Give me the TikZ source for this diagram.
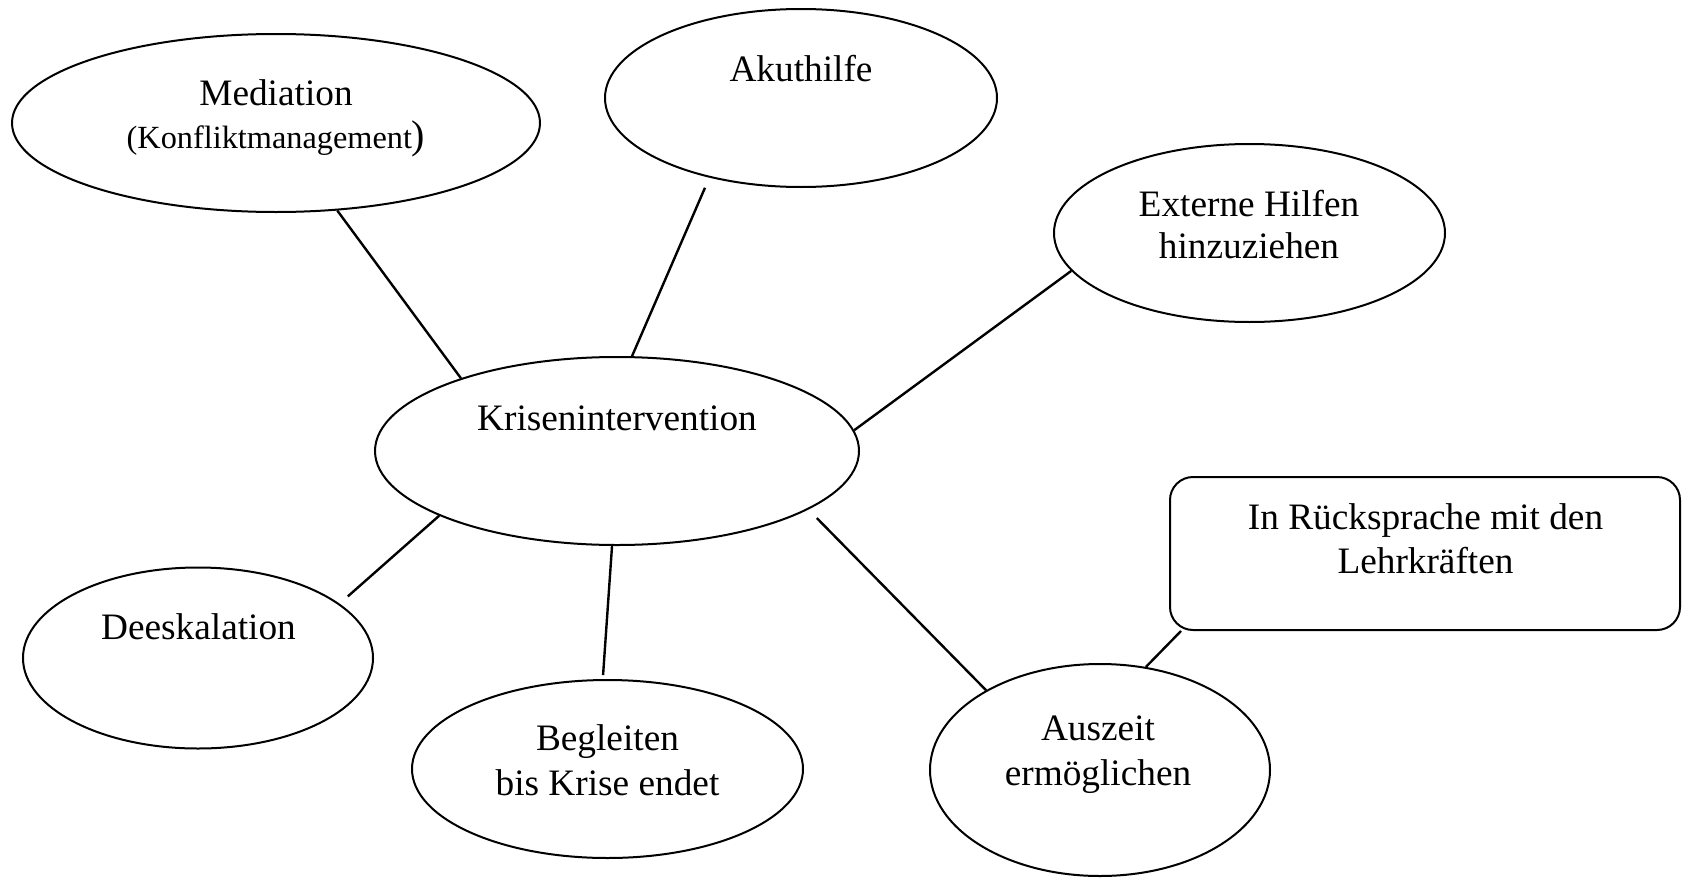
\documentclass[tikz,border=0pt]{standalone}
\usepackage{fontspec}
\setmainfont{Liberation Serif}
\usetikzlibrary{shapes.geometric}
\begin{document}
\begin{tikzpicture}[x=1pt,y=-1pt,
  bubble/.style={draw, ellipse, line width=2pt, inner sep=0pt},
  notebox/.style={draw, rectangle, rounded corners=23pt, line width=2pt, inner sep=0pt},
  caption/.style={anchor=base, align=center, inner sep=0pt,
    font=\fontsize{37.3}{44}\selectfont},
  link/.style={line width=2.4pt}]
\useasboundingbox (0,0) rectangle (1687,878);

% outlines
\node[bubble, minimum width=528pt, minimum height=178pt] (med)  at (276,123) {};
\node[bubble, minimum width=392pt, minimum height=178pt] (akut) at (801,98) {};
\node[bubble, minimum width=391pt, minimum height=178pt] (ext)  at (1249.5,233) {};
\node[bubble, minimum width=484pt, minimum height=188pt] (kris) at (617,451) {};
\node[bubble, minimum width=350pt, minimum height=181pt] (dees) at (198,658) {};
\node[bubble, minimum width=391pt, minimum height=178pt] (begl) at (607.5,769) {};
\node[bubble, minimum width=340pt, minimum height=212pt] (ausz) at (1100,770) {};
\node[notebox, minimum width=510pt, minimum height=153pt] (rs) at (1425,553.5) {};

% texts (multi-line captions are placed by the baseline of their last line)
\node[caption] (medT) at (276,148)
  {Mediation\\[-1pt]{\fontsize{32.3}{44}\selectfont(Konfliktmanagement}{\fontsize{40}{44}\selectfont)}};
\node[caption] (akutT) at (801,81) {Akuthilfe};
\node[caption] (extT)  at (1249,258) {Externe Hilfen\\[-2pt]hinzuziehen};
\node[caption] (krisT) at (617,430) {Krisenintervention};
\node[caption] (deesT) at (198.5,639) {Deeskalation};
\node[caption] (beglT) at (607.5,795) {Begleiten\\[1pt]bis Krise endet};
\node[caption] (auszT) at (1098,785) {Auszeit\\[1pt]ermöglichen};
\node[caption] (rsT)   at (1425.5,573) {In Rücksprache mit den\\Lehrkräften};

% connectors
\draw[link] (med.305.3) -- (kris.155.9);
\draw[link, shorten <=11pt] (akut.221.05) -- (kris.81.1);
\draw[link] (ext.192.1) -- (kris.5.9);
\draw[link, shorten >=11pt] (kris.200.8) -- (dees.21.0);
\draw[link, shorten >=4pt] (kris.267) -- (begl.93.7);
\draw[link, shorten <=12pt] (kris.343.5) -- (ausz.145.6);
\draw[link] ([xshift=12pt]rs.south west) -- (ausz.66.3);
\end{tikzpicture}
\end{document}
